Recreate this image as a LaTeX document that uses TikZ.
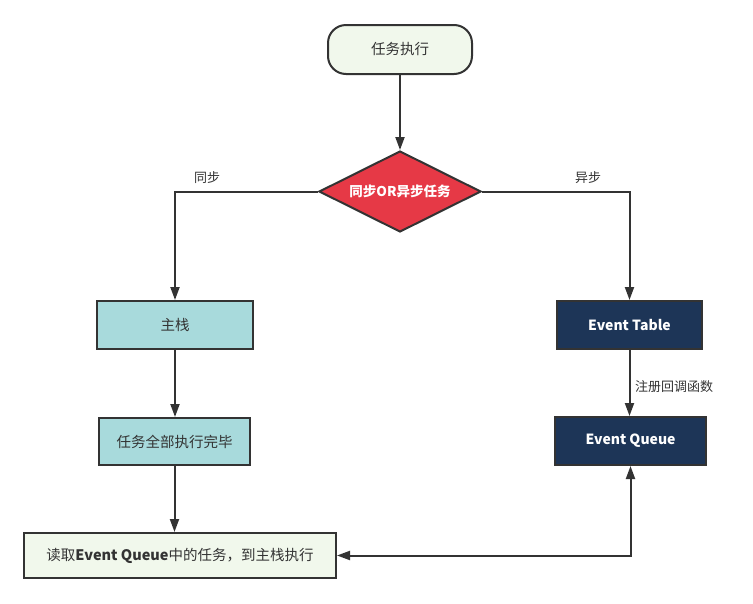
\documentclass[tikz,border=0pt]{standalone}
\usepackage{fontspec}
\setmainfont{Noto Sans CJK SC}
\usetikzlibrary{shapes.geometric,arrows.meta}
\definecolor{lightg}{HTML}{F1F8EC}
\definecolor{redd}{HTML}{E63946}
\definecolor{tealc}{HTML}{A8DADC}
\definecolor{navy}{HTML}{1D3557}
\definecolor{lnc}{HTML}{333333}
\tikzset{
  box/.style={draw=lnc, line width=2pt, inner sep=0pt, font=\fontsize{14.5}{17}\selectfont, text=lnc},
  startbox/.style={box, fill=lightg, rounded corners=18pt, minimum width=144pt, minimum height=49pt},
  decision/.style={diamond, shape aspect=2, draw=lnc, line width=2pt, fill=redd, inner sep=0pt, minimum width=162pt, minimum height=81pt, text=white, font=\fontsize{13.5}{16}\selectfont\bfseries},
  tealbox/.style={box, fill=tealc},
  navybox/.style={box, fill=navy, text=white, font=\fontsize{14}{17}\selectfont\bfseries},
  endbox/.style={box, fill=lightg, minimum width=312pt, minimum height=45pt},
  arr/.style={draw=lnc, line width=2pt, -{Triangle[length=13pt,width=9pt]}},
  dblarr/.style={draw=lnc, line width=2pt, {Triangle[length=13pt,width=9pt]}-{Triangle[length=13pt,width=9pt]}},
  lbl/.style={font=\fontsize{13}{15}\selectfont, text=lnc, inner sep=1pt}
}
\begin{document}
\begin{tikzpicture}[x=1pt,y=-1pt]
\useasboundingbox (0,0) rectangle (753,603);
\fill[white] (0,0) rectangle (753,603);
\node[startbox] (start) at (400,49.5) {任务执行};
\node[decision] (dec) at (400,191.5) {同步OR异步任务};
\node[tealbox, minimum width=156pt, minimum height=48pt] (zhu) at (175,325) {主栈};
\node[tealbox, minimum width=151pt, minimum height=47pt] (done) at (174.5,441.5) {任务全部执行完毕};
\node[navybox, minimum width=145pt, minimum height=48pt] (et) at (629.5,325) {Event Table};
\node[navybox, minimum width=151pt, minimum height=48pt] (eq) at (630.5,441) {Event Queue};
\node[endbox] (read) at (180,555.5) {读取\textbf{Event Queue}中的任务，到主栈执行};
\node[lbl] (l1) at (207,178) {同步};
\node[lbl] (l2) at (588,178) {异步};
\node[lbl, anchor=west] (l3) at (634,387) {注册回调函数};
\draw[arr] (start.south) -- (dec.north);
\draw[arr] (dec.west) -| (zhu.north);
\draw[arr] (dec.east) -| (et.north);
\draw[arr] (zhu.south) -- (zhu.south |- done.north);
\draw[arr] (et.south) -- (et.south |- eq.north);
\draw[arr] (done.south) -- (done.south |- read.north);
\draw[dblarr] (eq.south) |- (read.east);
\end{tikzpicture}
\end{document}
